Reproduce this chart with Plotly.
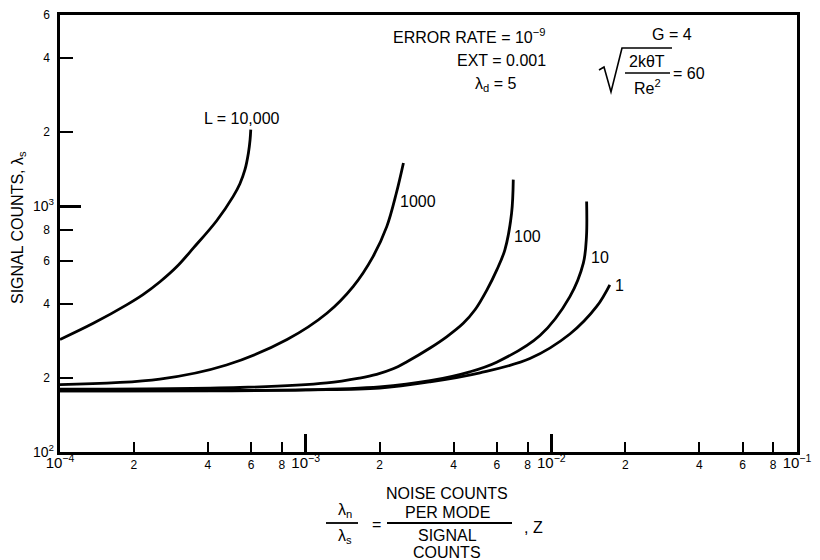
import math
import plotly.graph_objects as go

# ---------------- data ----------------
z_L10000 = [1.0e-4, 1.366e-4, 1.867e-4, 2.177e-4, 2.553e-4, 2.985e-4, 3.487e-4, 4.342e-4,
            5.07e-4, 5.40e-4, 5.66e-4, 5.85e-4, 5.94e-4, 5.977e-4]
s_L10000 = [287, 334, 397, 437, 493, 567, 675, 873, 1097, 1235, 1408, 1652, 1866, 2050]

z_L1000 = [1.0e-4, 2.55e-4, 4.76e-4, 8.4e-4, 1.22e-3, 1.56e-3, 1.88e-3, 2.14e-3, 2.34e-3, 2.50e-3]
s_L1000 = [188, 198, 226, 287, 367, 471, 624, 828, 1132, 1500]

z_L100 = [1.0e-4, 5.4e-4, 1.22e-3, 1.66e-3, 1.945e-3, 2.27e-3, 2.584e-3, 3.21e-3, 3.76e-3,
          4.38e-3, 4.89e-3, 5.47e-3, 6.0e-3, 6.47e-3, 6.89e-3, 7.0e-3]
s_L100 = [180, 183, 191, 200, 207, 218, 233, 265, 295, 334, 379, 457, 551, 665, 938, 1283]

z_L10 = [1.0e-4, 1.0e-3, 2.0e-3, 3.21e-3, 4.66e-3, 5.99e-3, 8.99e-3, 1.19e-2, 1.35e-2, 1.39e-2, 1.392e-2]
s_L10 = [177.5, 179, 184, 195, 212, 232, 298, 429, 587, 753, 1046]

z_L1 = [1.0e-4, 1.0e-3, 2.0e-3, 3.21e-3, 5.12e-3, 8.18e-3, 1.19e-2, 1.53e-2, 1.73e-2]
s_L1 = [177.5, 179, 182, 193, 210, 240, 302, 391, 479]

curve_labels = ["L = 10,000", "1000", "100", "10", "1"]

x_minor_vals = [2e-4, 4e-4, 6e-4, 8e-4, 2e-3, 4e-3, 6e-3, 8e-3, 2e-2, 4e-2, 6e-2, 8e-2]
x_minor_text = ["2", "4", "6", "8", "2", "4", "6", "8", "2", "4", "6", "8"]
x_decade_vals = [1e-4, 1e-3, 1e-2, 1e-1]
x_decade_text = ["10<sup>−4</sup>", "10<sup>−3</sup>", "10<sup>−2</sup>", "10<sup>−1</sup>"]

y_minor_vals = [200, 400, 600, 800, 2000, 4000, 6000]
y_minor_text = ["2", "4", "6", "8", "2", "4", "6"]
y_decade_vals = [100, 1000]
y_decade_text = ["10<sup>2</sup>", "10<sup>3</sup>"]

# ---------------- layout geometry ----------------
# the page body adds an 8 px margin; the figure is sized so the page is 820x560
OFF = 8
W, H = 820 - OFF, 560 - OFF
L_, R_, T_, B_ = 60 - OFF, 23, 15 - OFF, 108
PW, PH = W - L_ - R_, H - T_ - B_
FONT = "Liberation Sans, Arial, Helvetica, sans-serif"


def P(px, py):
    """page pixel -> paper coordinates"""
    return (px - OFF - L_) / PW, (H - B_ - (py - OFF)) / PH


fig = go.Figure()
for zs, ss in [(z_L10000, s_L10000), (z_L1000, s_L1000), (z_L100, s_L100),
               (z_L10, s_L10), (z_L1, s_L1)]:
    fig.add_trace(go.Scatter(x=zs, y=ss, mode="lines",
                             line=dict(color="black", width=2.8, shape="spline", smoothing=1.0),
                             showlegend=False, hoverinfo="skip"))

# empty trace to host the overlay axes carrying the decade ticks and labels
fig.add_trace(go.Scatter(x=[], y=[], xaxis="x2", yaxis="y2", showlegend=False))

xr = [math.log10(x_decade_vals[0]), math.log10(x_decade_vals[-1])]
yr = [math.log10(y_decade_vals[0]), math.log10(y_minor_vals[-1])]

common = dict(showgrid=False, zeroline=False, ticks="inside", tickcolor="black",
              automargin=False, type="log", tickmode="array")

fig.update_layout(
    width=W, height=H,
    margin=dict(l=L_, r=R_, t=T_, b=B_, autoexpand=False),
    paper_bgcolor="white", plot_bgcolor="white",
    font=dict(family=FONT, color="black", size=16),
    xaxis=dict(range=xr, showline=True, linecolor="black", linewidth=2.5, mirror=True,
               tickvals=x_minor_vals, ticktext=x_minor_text,
               ticklen=10, tickwidth=2, tickfont=dict(size=12, family=FONT, color="black"),
               **common),
    yaxis=dict(range=yr, showline=True, linecolor="black", linewidth=2.5, mirror=True,
               tickvals=y_minor_vals, ticktext=y_minor_text,
               ticklen=13, tickwidth=2, ticklabelstandoff=5,
               tickfont=dict(size=12, family=FONT, color="black"),
               **common),
    xaxis2=dict(range=xr, overlaying="x", anchor="y2", side="bottom",
                tickvals=x_decade_vals, ticktext=x_decade_text, ticklen=18, tickwidth=2.5,
                showline=False, tickfont=dict(size=15, family=FONT, color="black"), **common),
    yaxis2=dict(range=yr, overlaying="y", anchor="x2", side="left",
                tickvals=y_decade_vals, ticktext=y_decade_text, ticklen=21, tickwidth=2.5,
                ticklabelstandoff=5,
                showline=False, tickfont=dict(size=14, family=FONT, color="black"), **common),
)

ann = []


def add_text(text, px, py, size=16, xanchor="center", angle=0):
    x, y = P(px, py)
    ann.append(dict(text=text, x=x, y=y, xref="paper", yref="paper", showarrow=False,
                    xanchor=xanchor, yanchor="middle", textangle=angle,
                    font=dict(size=size, family=FONT, color="black")))


# curve labels
for lab, (px, py) in zip(curve_labels, [(242, 118), (418, 202), (527, 237), (600, 257), (619, 285)]):
    add_text(lab, px, py)

# parameter block
add_text("ERROR RATE = 10<sup>−9</sup>", 548, 36, xanchor="right")
add_text("EXT = 0.001", 548, 60, xanchor="right")
add_text("λ<sub>d</sub> = 5", 518, 84, xanchor="right")
add_text("G = 4", 672, 35)
add_text("2kθT", 647, 61)
add_text("Re<sup>2</sup>", 647, 87)
add_text("= 60", 689, 73)

# axis titles
add_text("SIGNAL COUNTS, λ<sub>s</sub>", 18, 228, angle=-90)
add_text("λ<sub>n</sub>", 345, 510)
add_text("λ<sub>s</sub>", 345, 536)
add_text("=", 376, 524)
add_text("NOISE COUNTS", 447, 494)
add_text("PER MODE", 447, 512)
add_text("SIGNAL", 447, 535)
add_text("COUNTS", 447, 552)
add_text(", Z", 533, 527)

fig.update_layout(annotations=ann)

shapes = []


def seg(p1, p2, w=1.8):
    x0, y0 = P(*p1)
    x1, y1 = P(*p2)
    shapes.append(dict(type="line", xref="paper", yref="paper", x0=x0, y0=y0, x1=x1, y1=y1,
                       line=dict(color="black", width=w)))


# fraction bars
seg((326, 523), (358, 523))
seg((387, 523), (512, 523))
seg((625, 73), (670, 73), 1.5)
# radical sign
pts = [(599, 70), (604, 67), (611, 92), (622, 48), (672, 48)]
path = "M " + " L ".join("{:.5f},{:.5f}".format(*P(*p)) for p in pts)
shapes.append(dict(type="path", xref="paper", yref="paper", path=path,
                   line=dict(color="black", width=1.6)))
fig.update_layout(shapes=shapes)

fig.write_html("out.html")
